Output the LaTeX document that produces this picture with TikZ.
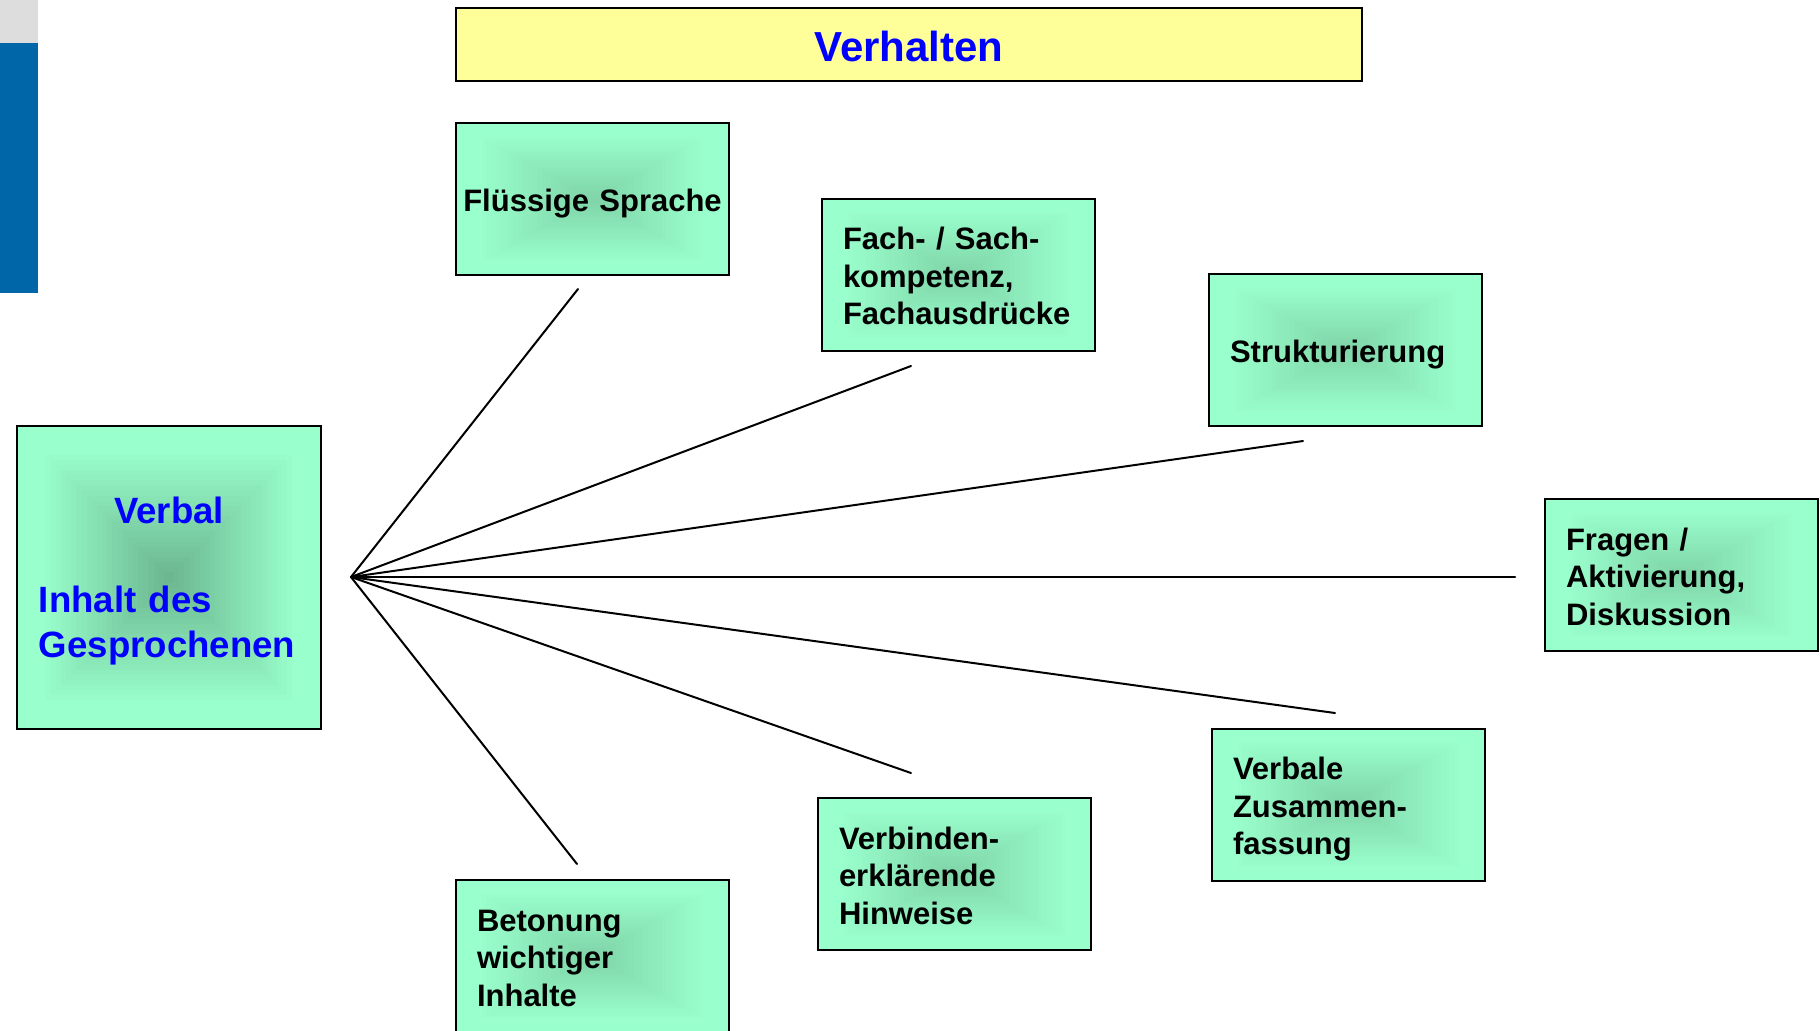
\documentclass[tikz,border=0pt]{standalone}
\usepackage{fontspec}
\setmainfont{Liberation Sans}
\usetikzlibrary{backgrounds,calc}
\definecolor{mintedge}{HTML}{99FFCC}
\definecolor{mintcore}{HTML}{7FD3A7}
\definecolor{mintdeep}{HTML}{6AB48D}
\definecolor{notepad}{HTML}{FFFF99}
\definecolor{sidebar}{HTML}{0066A8}
\definecolor{sidecap}{HTML}{DDDDDD}
\newcommand{\mintglow}[2]{%
    \fill[mintedge] (#1.north west) rectangle (#1.south east);
    \foreach \k in {1,...,24} {
        \pgfmathsetmacro\gs{0.84*(1-\k/25)}
        \pgfmathtruncatemacro\gp{4*\k}
        \fill[#2!\gp!mintedge] ($(#1.center)!\gs!(#1.north west)$) rectangle ($(#1.center)!\gs!(#1.south east)$);
    }
}
\begin{document}
\begin{tikzpicture} [
        x=0.5pt, y=-0.5pt,
        headbox/.style={draw, rectangle, line width=1pt, fill=notepad, text=blue,
            minimum width=453pt, minimum height=36.5pt, text height=17pt, text depth=0pt,
            font=\fontsize{21}{25}\selectfont\bfseries},
        topic/.style={draw, rectangle, line width=1pt,
            minimum width=136.5pt, minimum height=76pt, inner xsep=10.5pt,
            text width=115.5pt, align=left,
            execute at begin node={\rule{0pt}{16.8pt}},
            execute at end node={\rule[-4pt]{0pt}{4pt}},
            font=\fontsize{15.5}{18.7}\selectfont\bfseries},
        verbalbox/.style={draw, rectangle, line width=1pt, text=blue,
            minimum width=152pt, minimum height=151.5pt, inner xsep=11pt,
            text width=130pt, align=center,
            execute at begin node={\rule{0pt}{17.6pt}},
            execute at end node={\rule[-4.5pt]{0pt}{4.5pt}},
            font=\fontsize{18.3}{22.25}\selectfont\bfseries},
        spoke/.style={draw, line width=1pt, line cap=round} ]
    \useasboundingbox (0,0) rectangle (1820,1030);
    \fill[sidecap] (0,0) rectangle (38,43);
    \fill[sidebar] (0,43) rectangle (38,293);

    \node[headbox] (head) at (909,44.5) {Verhalten};
    \node[verbalbox] (verbal) at (169,577.5)
        {Verbal\\[22.25pt]\makebox[130pt][l]{Inhalt des}\\ \makebox[130pt][l]{Gesprochenen}};

    \node[topic, align=center, inner xsep=2pt, text width=132.5pt] (fluss) at (592.5,199) {Flüssige Sprache};
    \node[topic] (fach) at (958.5,274.5) {Fach- / Sach-\\kompetenz,\\Fachausdrücke};
    \node[topic] (struk) at (1345.5,350) {Strukturierung};
    \node[topic] (fragen) at (1681.5,575) {Fragen /\\Aktivierung,\\Diskussion};
    \node[topic] (zusam) at (1348.5,804.5) {Verbale\\Zusammen-\\fassung};
    \node[topic] (hinw) at (954.5,874) {Verbinden-\\erklärende\\Hinweise};
    \node[topic] (beton) at (592.5,956) {Betonung\\wichtiger\\Inhalte};

    \begin{pgfonlayer}{background}
        \mintglow{verbal}{mintdeep}
        \foreach \n in {fluss,fach,struk,fragen,zusam,hinw,beton}
            {\mintglow{\n}{mintcore}}
    \end{pgfonlayer}

    \coordinate (hub) at (351,577);
    \coordinate (fluss-end) at (578,289);
    \coordinate (fach-end) at (911,366);
    \coordinate (struk-end) at (1303,441);
    \coordinate (fragen-end) at (1515,577);
    \coordinate (zusam-end) at (1335,713);
    \coordinate (hinw-end) at (911,773);
    \coordinate (beton-end) at (577,864);
    \foreach \e in {fluss,fach,struk,fragen,zusam,hinw,beton}
        \draw[spoke] (hub) -- (\e-end);
\end{tikzpicture}
\end{document}
